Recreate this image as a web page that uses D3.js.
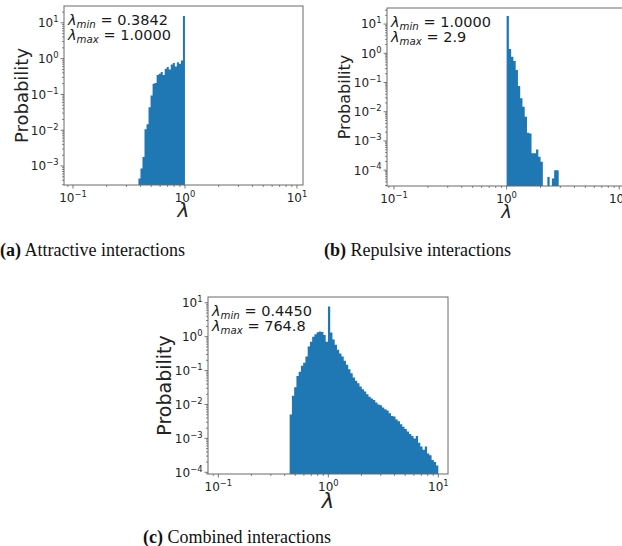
<!DOCTYPE html>
<html>
<head>
<meta charset="utf-8">
<script src="https://cdn.jsdelivr.net/npm/d3@7"></script>
<style>
  body { margin: 0; background: #fff; }
  svg { display: block; }
</style>
</head>
<body>
<svg id="fig" width="622" height="546"></svg>
<script>
// Log-binned eigenvalue histograms (probability per bin)
const attractiveBinRange = [0.3842, 1.0];
const attractiveProb = [
  0.00045, 0.00085, 0.0018, 0.0107, 0.0148, 0.044, 0.093, 0.20, 0.21, 0.35,
  0.38, 0.42, 0.35, 0.52, 0.58, 0.50, 0.69, 0.76, 0.60, 0.79,
  0.72, 0.89, 15.5
];

const repulsiveBinRange = [1.0, 2.9];
const repulsiveProb = [
  19, 1.4, 0.76, 0.55, 0.27, 0.076, 0.029, 0.0148, 0.0068, 0.0019,
  0.0018, 0.00038, 0.00038, 0.00051, 0.00029, 0.000195, 0, 0, 0.000059, 0,
  0.000052, 0.0001, 0.0001
];

const combinedBinRange = [0.445, 10];
const combinedProb = [
  0.0051, 0.018, 0.032, 0.069, 0.093, 0.14, 0.17, 0.26, 0.51, 0.71,
  1.00, 1.17, 1.35, 1.41, 1.38, 1.12, 0.71, 7.7, 1.32, 0.83,
  0.58, 0.41, 0.32, 0.26, 0.195, 0.148, 0.11, 0.083, 0.063, 0.050,
  0.042, 0.034, 0.028, 0.024, 0.020, 0.017, 0.015, 0.0135, 0.0115, 0.0100,
  0.0095, 0.0081, 0.0072, 0.0066, 0.0055, 0.0046, 0.0044, 0.0036, 0.0032, 0.0026,
  0.0022, 0.0019, 0.0016, 0.00135, 0.00117, 0.00100, 0.00117, 0.00074, 0.00058, 0.00046,
  0.00058, 0.00036, 0.00032, 0.00023, 0.00020, 0.00016
];

// Extreme eigenvalues printed in each panel
const attractiveStats = ["0.3842", "1.0000"];
const repulsiveStats = ["1.0000", "2.9"];
const combinedStats = ["0.4450", "764.8"];

// Axis ticks (powers of ten)
const xTickExponents = [-1, 0, 1];
const yTickExponentsA = [1, 0, -1, -2, -3];
const yTickExponentsBC = [1, 0, -1, -2, -3, -4];

const captionTags = ["(a)", "(b)", "(c)"];
const captionTexts = ["Attractive interactions", "Repulsive interactions", "Combined interactions"];

const BAR = "#1f77b4";
const svg = d3.select("#fig");
const MINUS = "\u2212";

function supText(sel, exp, size) {
  sel.append("tspan").text("10");
  sel.append("tspan")
    .attr("dy", -size * 0.42)
    .attr("font-size", size * 0.7)
    .text(exp < 0 ? MINUS + Math.abs(exp) : String(exp));
}

function drawPanel(cfg, idx) {
  const x = d3.scaleLog().domain(cfg.xDomain).range([cfg.left, cfg.right]);
  const y = d3.scaleLog().domain(cfg.yDomain).range([cfg.bottom, cfg.top]);
  const g = svg.append("g");

  const clipId = "clip" + idx;
  g.append("clipPath").attr("id", clipId)
    .append("rect")
    .attr("x", cfg.left).attr("y", cfg.top)
    .attr("width", cfg.right - cfg.left).attr("height", cfg.bottom - cfg.top);

  // log-spaced bin edges
  const n = cfg.values.length;
  const [lo, hi] = cfg.binRange;
  const edges = d3.range(n + 1).map(i => lo * Math.pow(hi / lo, i / n));

  // group consecutive non-empty bins into runs, each drawn as one stepped outline
  const runs = [];
  let cur = null;
  cfg.values.forEach((p, i) => {
    if (p > 0) {
      if (!cur) { cur = []; runs.push(cur); }
      cur.push({ x0: edges[i], x1: edges[i + 1], p });
    } else cur = null;
  });
  const stepPath = run => {
    const p = d3.path();
    p.moveTo(x(run[0].x0), cfg.bottom);
    run.forEach(d => {
      p.lineTo(x(d.x0), y(d.p));
      p.lineTo(x(d.x1), y(d.p));
    });
    p.lineTo(x(run[run.length - 1].x1), cfg.bottom);
    p.closePath();
    return p.toString();
  };
  g.append("g").attr("clip-path", `url(#${clipId})`)
    .selectAll("path").data(runs).join("path")
    .attr("d", stepPath)
    .attr("fill", BAR);

  // frame
  g.append("rect")
    .attr("x", cfg.left).attr("y", cfg.top)
    .attr("width", cfg.right - cfg.left).attr("height", cfg.bottom - cfg.top)
    .attr("fill", "none").attr("stroke", "#6a6a6a").attr("stroke-width", 1);

  const tickCol = "#555";
  // x ticks (major + minor)
  const xd = x.domain();
  const xMinor = [];
  for (let e = -2; e <= 1; e++) for (let m = 2; m <= 9; m++) {
    const v = m * Math.pow(10, e);
    if (v > xd[0] && v < xd[1]) xMinor.push(v);
  }
  g.selectAll(".xmin").data(xMinor).join("line")
    .attr("x1", d => x(d)).attr("x2", d => x(d))
    .attr("y1", cfg.bottom).attr("y2", cfg.bottom + 2)
    .attr("stroke", tickCol).attr("stroke-width", 0.7);
  const xMajor = xTickExponents.map(e => Math.pow(10, e)).filter(v => v >= xd[0] && v <= xd[1]);
  g.selectAll(".xmaj").data(xMajor).join("line")
    .attr("x1", d => x(d)).attr("x2", d => x(d))
    .attr("y1", cfg.bottom).attr("y2", cfg.bottom + 3.5)
    .attr("stroke", tickCol).attr("stroke-width", 0.8);
  xTickExponents.forEach(e => {
    const t = g.append("text")
      .attr("x", x(Math.pow(10, e)))
      .attr("y", cfg.bottom + 3.5 + cfg.tickSize * 1.1)
      .attr("text-anchor", "middle")
      .attr("font-family", "DejaVu Sans, sans-serif")
      .attr("font-size", cfg.tickSize)
      .attr("fill", "#222");
    supText(t, e, cfg.tickSize);
  });

  // y ticks (major + minor)
  const yd = y.domain();
  const yMinor = [];
  for (let e = -5; e <= 1; e++) for (let m = 2; m <= 9; m++) {
    const v = m * Math.pow(10, e);
    if (v > yd[0] && v < yd[1]) yMinor.push(v);
  }
  g.selectAll(".ymin").data(yMinor).join("line")
    .attr("x1", cfg.left - 2).attr("x2", cfg.left)
    .attr("y1", d => y(d)).attr("y2", d => y(d))
    .attr("stroke", tickCol).attr("stroke-width", 0.7);
  g.selectAll(".ymaj").data(cfg.yTicks).join("line")
    .attr("x1", cfg.left - 3.5).attr("x2", cfg.left)
    .attr("y1", e => y(Math.pow(10, e))).attr("y2", e => y(Math.pow(10, e)))
    .attr("stroke", tickCol).attr("stroke-width", 0.8);
  cfg.yTicks.forEach(e => {
    const t = g.append("text")
      .attr("x", cfg.left - 5.5)
      .attr("y", y(Math.pow(10, e)) + cfg.tickSize * 0.36)
      .attr("text-anchor", "end")
      .attr("font-family", "DejaVu Sans, sans-serif")
      .attr("font-size", cfg.tickSize)
      .attr("fill", "#222");
    supText(t, e, cfg.tickSize);
  });

  // axis labels
  g.append("text")
    .attr("transform", `translate(${cfg.yLabelX},${(cfg.top + cfg.bottom) / 2}) rotate(-90)`)
    .attr("text-anchor", "middle")
    .attr("dominant-baseline", "central")
    .attr("font-family", "DejaVu Sans, sans-serif")
    .attr("font-size", cfg.labelSize)
    .attr("fill", "#222")
    .text("Probability");
  g.append("text")
    .attr("x", (cfg.left + cfg.right) / 2)
    .attr("y", cfg.xLabelY)
    .attr("text-anchor", "middle")
    .attr("font-family", "DejaVu Sans, sans-serif")
    .attr("font-style", "italic")
    .attr("font-size", cfg.labelSize + 2)
    .attr("fill", "#222")
    .text("λ");

  // min / max annotation
  [["min", cfg.stats[0]], ["max", cfg.stats[1]]].forEach(([sub, val], k) => {
    const t = g.append("text")
      .attr("x", cfg.left + 4)
      .attr("y", cfg.top + 19 + k * 15)
      .attr("font-family", "DejaVu Sans, sans-serif")
      .attr("font-size", 14.5)
      .attr("fill", "#1a1a1a");
    t.append("tspan").attr("font-style", "italic").text("λ");
    t.append("tspan").attr("font-style", "italic").attr("font-size", 10.2).attr("dy", 3).text(sub);
    t.append("tspan").attr("dy", -3).text(" = " + val);
  });
}

const panels = [
  { left: 64, right: 303, top: 6, bottom: 185,
    xDomain: [Math.pow(10, -1.08), Math.pow(10, 1.054)],
    yDomain: [Math.pow(10, -3.53), Math.pow(10, 1.47)],
    binRange: attractiveBinRange, values: attractiveProb, stats: attractiveStats,
    yTicks: yTickExponentsA, tickSize: 12, labelSize: 18, yLabelX: 21, xLabelY: 217 },
  { left: 387, right: 626, top: 8, bottom: 186,
    xDomain: [Math.pow(10, -1.062), Math.pow(10, 1.06)],
    yDomain: [Math.pow(10, -4.54), Math.pow(10, 1.55)],
    binRange: repulsiveBinRange, values: repulsiveProb, stats: repulsiveStats,
    yTicks: yTickExponentsBC, tickSize: 12, labelSize: 16, yLabelX: 344, xLabelY: 218 },
  { left: 208, right: 448, top: 297, bottom: 474,
    xDomain: [Math.pow(10, -1.094), Math.pow(10, 1.088)],
    yDomain: [Math.pow(10, -4.05), Math.pow(10, 1.17)],
    binRange: combinedBinRange, values: combinedProb, stats: combinedStats,
    yTicks: yTickExponentsBC, tickSize: 12, labelSize: 19, yLabelX: 164, xLabelY: 508 }
];
panels.forEach(drawPanel);

// sub-figure captions
const captionPos = [[0, 256], [324, 256], [143, 543]];
captionTags.forEach((tag, i) => {
  const t = svg.append("text")
    .attr("x", captionPos[i][0]).attr("y", captionPos[i][1])
    .attr("font-family", "Liberation Serif, serif")
    .attr("font-size", 18)
    .attr("fill", "#111");
  t.append("tspan").attr("font-weight", "bold").text(tag);
  t.append("tspan").text(" " + captionTexts[i]);
});
</script>
</body>
</html>
